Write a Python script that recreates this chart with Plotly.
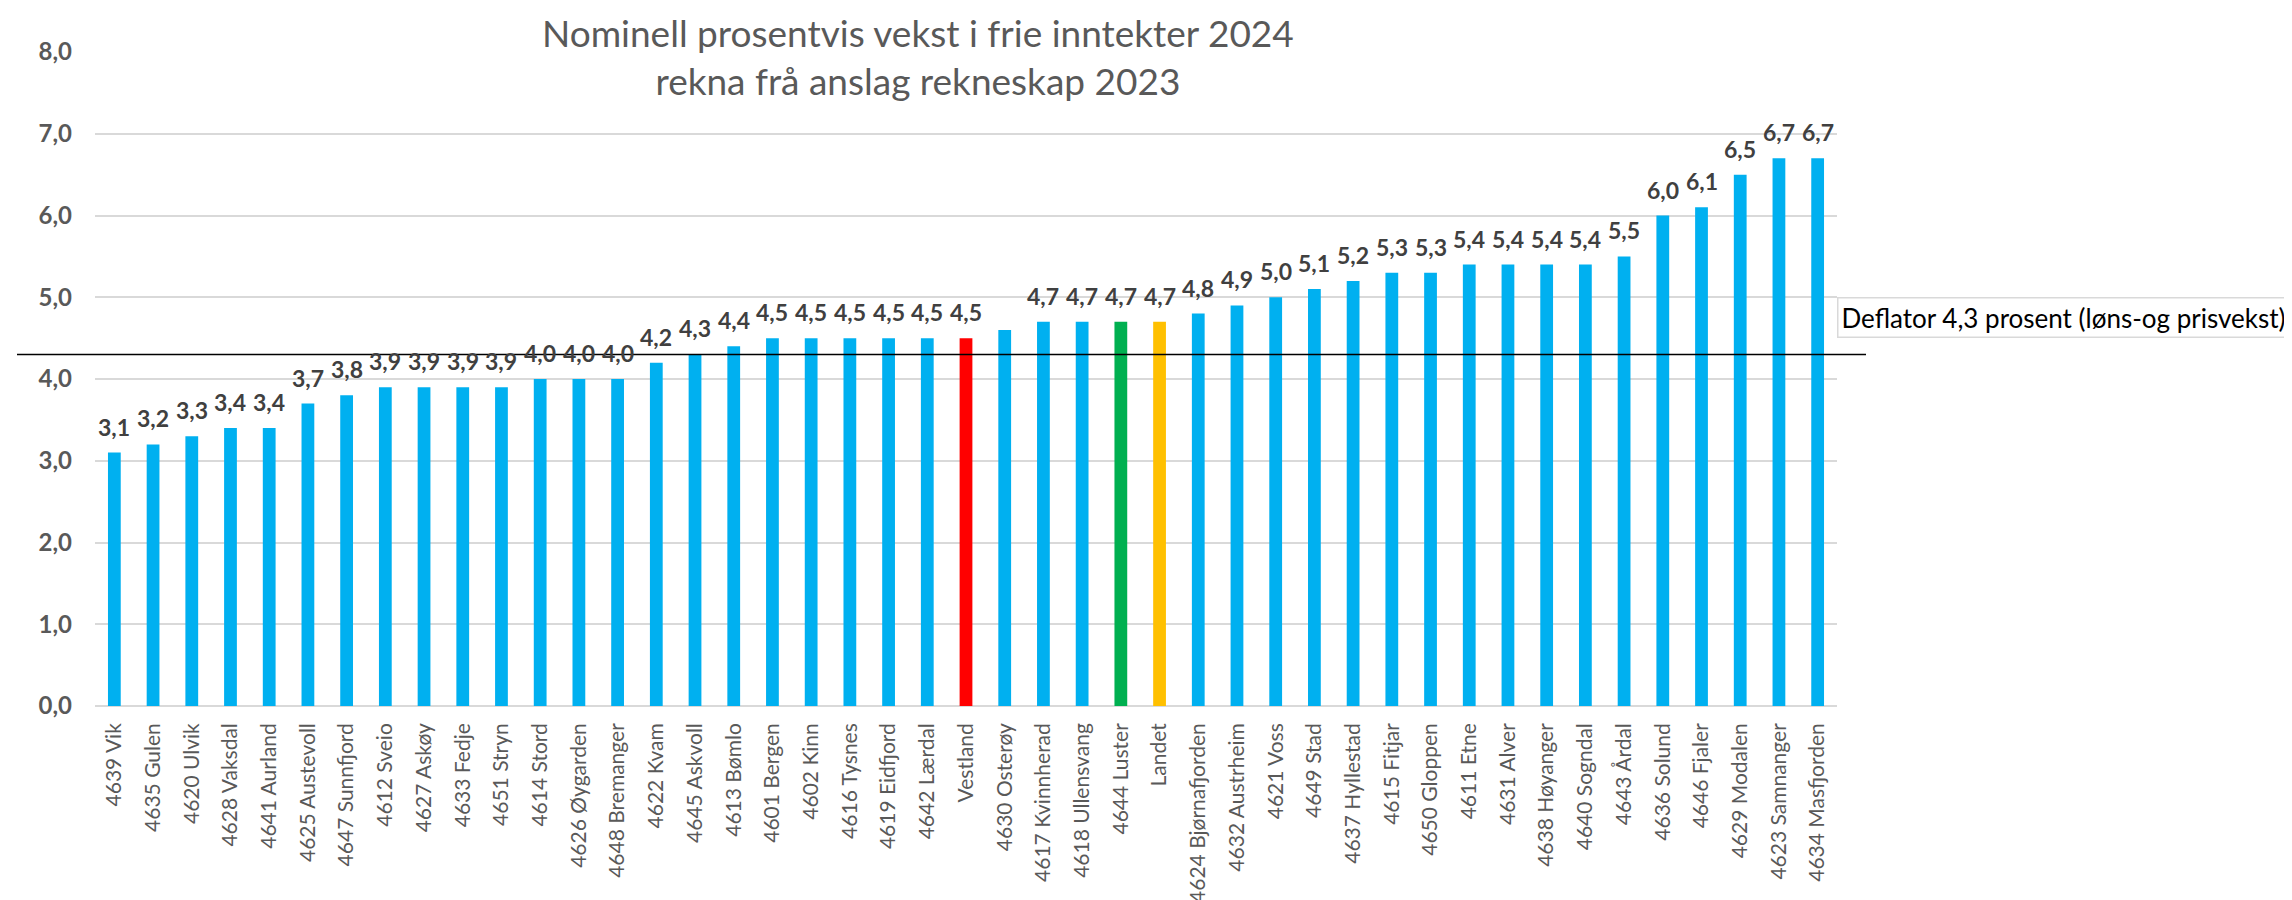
import plotly.graph_objects as go

categories = [
    "4639 Vik", "4635 Gulen", "4620 Ulvik", "4628 Vaksdal", "4641 Aurland",
    "4625 Austevoll", "4647 Sunnfjord", "4612 Sveio", "4627 Askøy", "4633 Fedje",
    "4651 Stryn", "4614 Stord", "4626 Øygarden", "4648 Bremanger", "4622 Kvam",
    "4645 Askvoll", "4613 Bømlo", "4601 Bergen", "4602 Kinn", "4616 Tysnes",
    "4619 Eidfjord", "4642 Lærdal", "Vestland", "4630 Osterøy", "4617 Kvinnherad",
    "4618 Ullensvang", "4644 Luster", "Landet", "4624 Bjørnafjorden", "4632 Austrheim",
    "4621 Voss", "4649 Stad", "4637 Hyllestad", "4615 Fitjar", "4650 Gloppen",
    "4611 Etne", "4631 Alver", "4638 Høyanger", "4640 Sogndal", "4643 Årdal",
    "4636 Solund", "4646 Fjaler", "4629 Modalen", "4623 Samnanger", "4634 Masfjorden",
]
values = [
    3.1, 3.2, 3.3, 3.4, 3.4, 3.7, 3.8, 3.9, 3.9, 3.9,
    3.9, 4.0, 4.0, 4.0, 4.2, 4.3, 4.4, 4.5, 4.5, 4.5,
    4.5, 4.5, 4.5, 4.6, 4.7, 4.7, 4.7, 4.7, 4.8, 4.9,
    5.0, 5.1, 5.2, 5.3, 5.3, 5.4, 5.4, 5.4, 5.4, 5.5,
    6.0, 6.1, 6.5, 6.7, 6.7,
]
# categories whose value label is not shown in the chart
unlabelled = ["4630 Osterøy"]
highlight_colors = {"Vestland": "#FF0000", "4644 Luster": "#00B050", "Landet": "#FFC000"}
default_color = "#00B0F0"

deflator = 4.3
deflator_text = "Deflator 4,3 prosent (løns-og prisvekst)"
title_lines = ["Nominell prosentvis vekst i frie inntekter 2024", "rekna frå anslag rekneskap 2023"]
y_ticks = [0, 1, 2, 3, 4, 5, 6, 7, 8]

FONT = "Lato, Carlito, Calibri, 'Noto Sans', sans-serif"

W, H = 2292, 900
L, R, T, B = 87, 463, 44, 202
plot_w = W - L - R
plot_h = H - T - B

colors = [highlight_colors.get(c, default_color) for c in categories]

fig = go.Figure()
fig.add_trace(go.Bar(
    x=categories, y=values,
    marker=dict(color=colors, line=dict(width=0)),
    hoverinfo="x+y",
))

annotations = []
for c, v in zip(categories, values):
    if c in unlabelled:
        continue
    annotations.append(dict(
        x=c, y=v, xref="x", yref="y",
        text=f"{v:.1f}".replace(".", ","),
        showarrow=False, yanchor="bottom", yshift=10,
        font=dict(family=FONT, size=23, color="#404040", weight="bold"),
    ))

annotations.append(dict(
    x=1.0, xref="paper", y=deflator, yref="y",
    text=deflator_text, showarrow=False,
    xanchor="left", yanchor="middle", xshift=0, yshift=37,
    font=dict(family=FONT, size=26, color="#000000"),
    bordercolor="#D9D9D9", borderwidth=1.5, borderpad=3, bgcolor="white",
))

annotations.append(dict(
    x=(910 - L) / plot_w, xref="paper", xanchor="center",
    y=1 + T / plot_h, yref="paper", yanchor="top", yshift=-1,
    text="<br>".join(title_lines), showarrow=False, borderpad=0,
    font=dict(family=FONT, size=37, color="#595959"),
))

fig.update_layout(
    width=W, height=H,
    margin=dict(l=L, r=R, t=T, b=B),
    paper_bgcolor="white", plot_bgcolor="white",
    separators=",.",
    bargap=0.67,
    showlegend=False,
    annotations=annotations,
    shapes=[dict(
        type="line", xref="paper", yref="y",
        x0=(9 - L) / plot_w, x1=(1858 - L) / plot_w, y0=deflator, y1=deflator,
        line=dict(color="#000000", width=1.5),
    )],
    xaxis=dict(
        tickangle=-90, automargin=False,
        tickfont=dict(family=FONT, size=21, color="#595959"),
        showgrid=False, showline=False, ticks="",
        ticklabelstandoff=12,
    ),
    yaxis=dict(
        range=[0, 8], tickvals=y_ticks, tickformat=".1f", automargin=False,
        tickfont=dict(family=FONT, size=24, color="#595959", weight="bold"),
        showgrid=True, gridcolor="#D9D9D9", gridwidth=2,
        zeroline=True, zerolinecolor="#D9D9D9", zerolinewidth=2,
        showline=False, ticks="", ticklabelstandoff=22,
    ),
)

fig.write_html("out.html")
